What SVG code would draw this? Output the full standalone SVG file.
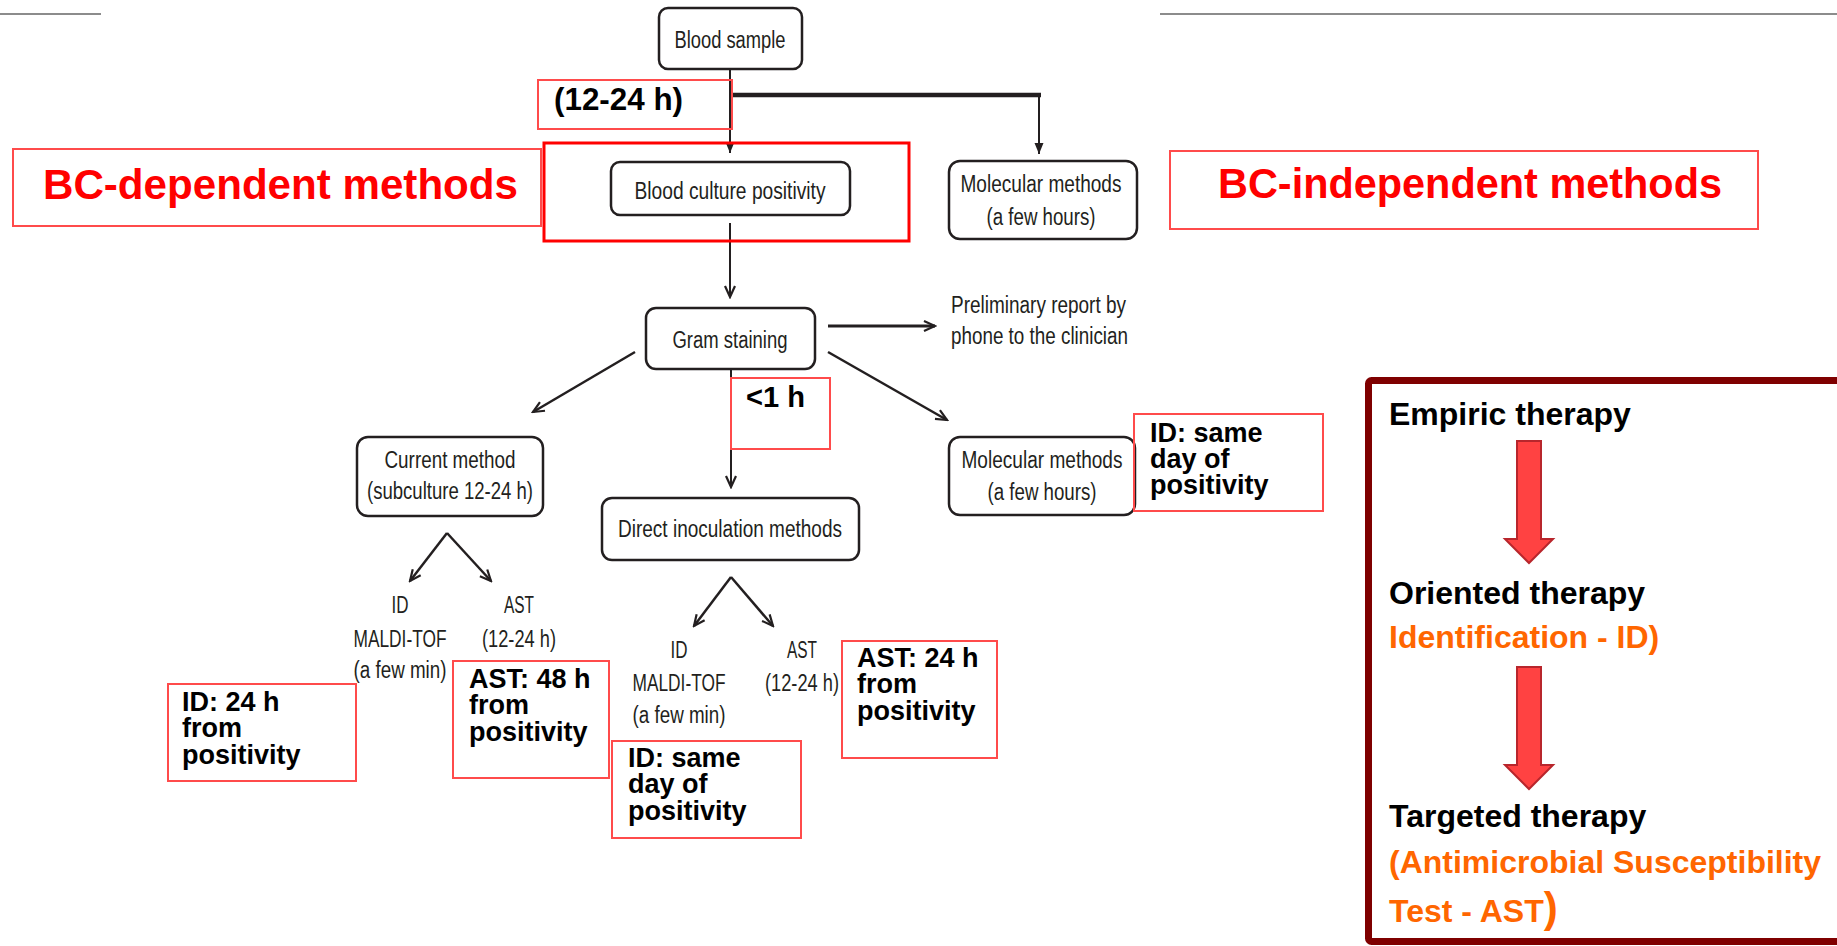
<svg xmlns="http://www.w3.org/2000/svg" width="1837" height="946" viewBox="0 0 1837 946">
<style>
.bx{fill:#fff;stroke:#231f20;stroke-width:2.5}
.nt{font-family:"Liberation Sans Narrow","Liberation Sans",Arial,sans-serif;font-size:23px;fill:#231f20;text-anchor:middle}
.st{font-family:"Liberation Sans Narrow","Liberation Sans",Arial,sans-serif;font-size:23px;fill:#231f20}
.lb{fill:none;stroke:#ff4b4b;stroke-width:2}
.bt{font-family:"Liberation Sans",Arial,sans-serif;font-weight:bold;font-size:27px;fill:#000}
.big{font-family:"Liberation Sans",Arial,sans-serif;font-weight:bold;font-size:42px;fill:#ff0000}
.th{font-family:"Liberation Sans",Arial,sans-serif;font-weight:bold;font-size:32px;fill:#000}
.or{fill:#ff6600}
.cn{stroke:#231f20;stroke-width:2.5;fill:none}
.v{stroke-width:2}
.thick{stroke-width:4.5}
.w3{stroke-width:3}
.ra{fill:#ff4242;stroke:#b8262c;stroke-width:2}
</style>
<defs>
<marker id="ch" viewBox="-13 -7 15 14" refX="0" refY="0" markerWidth="15" markerHeight="14" markerUnits="userSpaceOnUse" orient="auto">
<path d="M-11,-5 L0,0 L-11,5" fill="none" stroke="#231f20" stroke-width="2.2"/>
</marker>
<marker id="tf" viewBox="-12 -6 14 12" refX="0" refY="0" markerWidth="14" markerHeight="12" markerUnits="userSpaceOnUse" orient="auto">
<path d="M-11,-4.5 L0,0 L-11,4.5 Z" fill="#231f20"/>
</marker>
</defs>
<rect width="1837" height="946" fill="#fff"/>
<g id="rules" stroke="#8c8c8c" stroke-width="2">
<line x1="0" y1="14" x2="101" y2="14"/>
<line x1="1160" y1="14" x2="1837" y2="14"/>
</g>
<g id="connectors">
<line class="cn v" x1="730" y1="69" x2="730" y2="153" marker-end="url(#tf)"/>
<line class="cn thick" x1="730" y1="95" x2="1041" y2="95"/>
<line class="cn v" x1="1039" y1="95" x2="1039" y2="154" marker-end="url(#tf)"/>
<line class="cn v" x1="730" y1="223" x2="730" y2="297" marker-end="url(#ch)"/>
<line class="cn w3" x1="828" y1="326" x2="935" y2="326" marker-end="url(#ch)"/>
<line class="cn" x1="635" y1="352" x2="533" y2="412" marker-end="url(#ch)"/>
<line class="cn" x1="828" y1="352" x2="947" y2="420" marker-end="url(#ch)"/>
<line class="cn v" x1="731" y1="369" x2="731" y2="487" marker-end="url(#ch)"/>
<line class="cn" x1="447" y1="533" x2="410" y2="581" marker-end="url(#ch)"/>
<line class="cn" x1="447" y1="533" x2="491" y2="581" marker-end="url(#ch)"/>
<line class="cn" x1="731" y1="577" x2="694" y2="626" marker-end="url(#ch)"/>
<line class="cn" x1="731" y1="577" x2="773" y2="626" marker-end="url(#ch)"/>
</g>
<g id="blood-sample">
<rect class="bx" x="659" y="8" width="143" height="61" rx="9"/>
<text class="nt" x="730" y="48" textLength="111" lengthAdjust="spacingAndGlyphs">Blood sample</text>
</g>
<g id="bc-positivity">
<rect class="bx" x="611" y="162" width="239" height="53" rx="9"/>
<text class="nt" x="730" y="199" textLength="191" lengthAdjust="spacingAndGlyphs">Blood culture positivity</text>
</g>
<g id="molecular-top">
<rect class="bx" x="949" y="161" width="188" height="78" rx="11"/>
<text class="nt" x="1041" y="192" textLength="161" lengthAdjust="spacingAndGlyphs">Molecular methods</text>
<text class="nt" x="1041" y="225" textLength="109" lengthAdjust="spacingAndGlyphs">(a few hours)</text>
</g>
<g id="gram">
<rect class="bx" x="646" y="308" width="169" height="61" rx="10"/>
<text class="nt" x="730" y="348" textLength="115" lengthAdjust="spacingAndGlyphs">Gram staining</text>
</g>
<g id="preliminary">
<text class="st" x="951" y="313" textLength="175" lengthAdjust="spacingAndGlyphs">Preliminary report by</text>
<text class="st" x="951" y="344" textLength="177" lengthAdjust="spacingAndGlyphs">phone to the clinician</text>
</g>
<g id="current-method">
<rect class="bx" x="357" y="437" width="186" height="79" rx="11"/>
<text class="nt" x="450" y="468" textLength="131" lengthAdjust="spacingAndGlyphs">Current method</text>
<text class="nt" x="450" y="499" textLength="166" lengthAdjust="spacingAndGlyphs">(subculture 12-24 h)</text>
</g>
<g id="direct-inoculation">
<rect class="bx" x="602" y="498" width="257" height="62" rx="10"/>
<text class="nt" x="730" y="537" textLength="224" lengthAdjust="spacingAndGlyphs">Direct inoculation methods</text>
</g>
<g id="molecular-lower">
<rect class="bx" x="949" y="437" width="186" height="78" rx="11"/>
<text class="nt" x="1042" y="468" textLength="161" lengthAdjust="spacingAndGlyphs">Molecular methods</text>
<text class="nt" x="1042" y="500" textLength="109" lengthAdjust="spacingAndGlyphs">(a few hours)</text>
</g>
<g id="id-current" text-anchor="middle">
<text class="st" x="400" y="613" textLength="17" lengthAdjust="spacingAndGlyphs">ID</text>
<text class="st" x="400" y="647" textLength="93" lengthAdjust="spacingAndGlyphs">MALDI-TOF</text>
<text class="st" x="400" y="678" textLength="93" lengthAdjust="spacingAndGlyphs">(a few min)</text>
</g>
<g id="ast-current" text-anchor="middle">
<text class="st" x="519" y="613" textLength="30" lengthAdjust="spacingAndGlyphs">AST</text>
<text class="st" x="519" y="647" textLength="74" lengthAdjust="spacingAndGlyphs">(12-24 h)</text>
</g>
<g id="id-direct" text-anchor="middle">
<text class="st" x="679" y="658" textLength="17" lengthAdjust="spacingAndGlyphs">ID</text>
<text class="st" x="679" y="691" textLength="93" lengthAdjust="spacingAndGlyphs">MALDI-TOF</text>
<text class="st" x="679" y="723" textLength="93" lengthAdjust="spacingAndGlyphs">(a few min)</text>
</g>
<g id="ast-direct" text-anchor="middle">
<text class="st" x="802" y="658" textLength="30" lengthAdjust="spacingAndGlyphs">AST</text>
<text class="st" x="802" y="691" textLength="74" lengthAdjust="spacingAndGlyphs">(12-24 h)</text>
</g>
<g id="label-12-24h">
<rect class="lb" x="538" y="80" width="194" height="49"/>
<text class="bt" x="554" y="110" style="font-size:31px" textLength="129" lengthAdjust="spacingAndGlyphs">(12-24 h)</text>
</g>
<g id="bc-dependent-frame">
<rect x="544" y="143" width="365" height="98" fill="none" stroke="#ff0000" stroke-width="3"/>
</g>
<g id="bc-dependent">
<rect class="lb" x="13" y="149" width="528" height="77"/>
<text class="big" x="43" y="199" textLength="475" lengthAdjust="spacingAndGlyphs">BC-dependent methods</text>
</g>
<g id="bc-independent">
<rect class="lb" x="1170" y="151" width="588" height="78"/>
<text class="big" x="1218" y="198" textLength="504" lengthAdjust="spacingAndGlyphs">BC-independent methods</text>
</g>
<g id="label-1h">
<rect class="lb" x="731" y="378" width="99" height="71"/>
<text class="bt" x="746" y="407" style="font-size:29px" textLength="59" lengthAdjust="spacingAndGlyphs">&lt;1 h</text>
</g>
<g id="label-id-molecular">
<rect class="lb" x="1134" y="414" width="189" height="97"/>
<text class="bt" x="1150" y="442">ID: same</text>
<text class="bt" x="1150" y="468">day of</text>
<text class="bt" x="1150" y="494">positivity</text>
</g>
<g id="label-id-24h">
<rect class="lb" x="168" y="684" width="188" height="97"/>
<text class="bt" x="182" y="711">ID: 24 h</text>
<text class="bt" x="182" y="737">from</text>
<text class="bt" x="182" y="764">positivity</text>
</g>
<g id="label-ast-48h">
<rect class="lb" x="453" y="661" width="156" height="117"/>
<text class="bt" x="469" y="688">AST: 48 h</text>
<text class="bt" x="469" y="714">from</text>
<text class="bt" x="469" y="741">positivity</text>
</g>
<g id="label-id-direct">
<rect class="lb" x="612" y="741" width="189" height="97"/>
<text class="bt" x="628" y="767">ID: same</text>
<text class="bt" x="628" y="793">day of</text>
<text class="bt" x="628" y="820">positivity</text>
</g>
<g id="label-ast-24h">
<rect class="lb" x="842" y="641" width="155" height="117"/>
<text class="bt" x="857" y="667">AST: 24 h</text>
<text class="bt" x="857" y="693">from</text>
<text class="bt" x="857" y="720">positivity</text>
</g>
<g id="therapy-panel">
<rect x="1368.5" y="380.5" width="480" height="561" rx="3" fill="#fff" stroke="#7f0000" stroke-width="7"/>
<text class="th" x="1389" y="425">Empiric therapy</text>
<path class="ra" d="M1517,441 H1541 V539 H1553 L1529,563 L1505,539 H1517 Z"/>
<text class="th" x="1389" y="604">Oriented therapy</text>
<text class="th or" x="1389" y="648">Identification - ID)</text>
<path class="ra" d="M1517,667 H1541 V765 H1553 L1529,789 L1505,765 H1517 Z"/>
<text class="th" x="1389" y="827">Targeted therapy</text>
<text class="th or" x="1389" y="873">(Antimicrobial Susceptibility</text>
<text class="th or" x="1389" y="922">Test - AST<tspan style="font-size:42px">)</tspan></text>
</g>
</svg>
